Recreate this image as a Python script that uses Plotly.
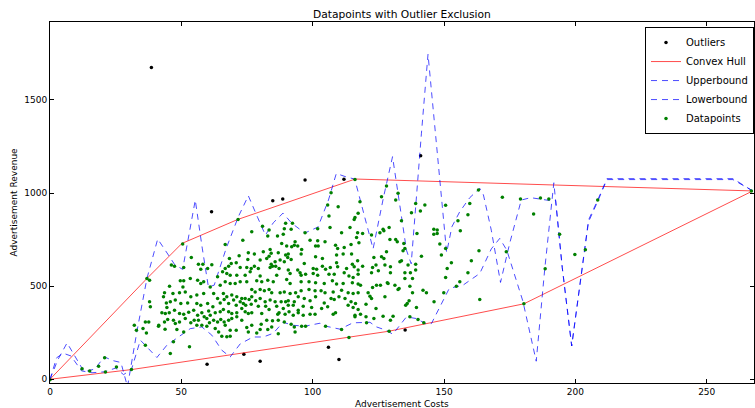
import plotly.graph_objects as go

# ---------------- data ----------------
dp_x = [
0.0,12.2,15.1,18.5,20.8,21.1,25.3,31.0,
53.8,68.3,72.0,46.2,47.4,50.9,56.5,58.2,57.4,60.0,61.6,66.7,68.0,69.0,70.9,72.4,36.9,37.9,49.6,50.9,53.4,56.2,58.5,63.8,65.7,67.3,68.6,71.1,66.7,68.6,72.4,70.5,45.5,50.6,57.4,61.0,64.8,43.6,46.8,49.3,51.5,53.6,55.9,58.5,62.3,63.8,66.0,67.3,69.2,71.1,73.0,69.9,72.4,37.9,38.2,45.8,47.7,49.8,52.4,55.9,57.4,60.0,62.0,64.8,66.3,68.0,70.9,73.6,42.6,43.9,45.4,47.4,49.3,50.9,52.8,54.7,56.2,57.8,58.7,60.4,61.0,62.9,64.8,66.0,68.0,69.2,71.1,73.0,74.3,36.3,37.6,41.4,43.6,44.8,47.0,47.7,49.3,51.5,53.6,54.9,56.5,57.8,59.7,60.7,62.3,63.8,65.0,66.3,68.0,69.2,71.1,73.0,32.1,32.9,35.4,43.8,48.3,50.9,55.9,59.7,62.9,64.2,66.7,68.6,70.9,36.7,47.0,53.1,65.4,67.3,68.6,
43.2,44.3,44.5,41.3,36.3,45.8,
75.5,77.8,81.2,83.4,84.2,86.9,89.7,90.7,95.6,101.1,109.1,111.6,114.8,75.3,80.0,82.5,84.2,84.7,85.7,87.6,89.2,90.5,91.8,96.8,103.7,109.1,115.1,117.1,74.9,76.6,77.8,79.3,83.8,85.9,87.2,90.7,94.3,95.2,100.2,101.5,103.7,104.9,106.7,109.5,112.9,115.8,117.3,74.3,76.2,80.0,86.3,91.4,95.6,97.3,100.2,101.9,106.2,108.2,112.0,113.8,115.4,117.3,74.9,78.7,80.6,82.9,85.0,90.1,91.4,95.6,98.6,101.1,104.4,107.5,109.1,111.6,115.1,117.3,76.8,78.1,80.0,81.6,83.4,84.4,87.6,89.2,91.4,93.5,95.6,98.6,100.9,103.2,104.7,107.8,111.0,113.5,115.4,117.3,74.3,75.8,76.8,78.3,80.0,81.9,83.8,85.7,88.0,89.7,90.7,93.0,94.5,96.8,99.0,101.1,104.4,107.0,108.2,110.0,112.3,114.6,116.3,74.5,76.6,79.3,82.1,83.4,86.3,88.8,90.7,92.6,94.5,96.4,99.6,103.4,105.7,113.5,115.4,117.3,75.5,76.8,80.6,86.7,87.2,89.5,91.0,92.6,94.5,96.4,99.0,100.9,107.8,108.7,116.1,74.9,76.8,80.4,82.5,84.7,86.9,89.2,91.8,93.0,95.8,97.3,104.9,111.0,116.1,75.5,78.7,80.0,82.9,84.4,86.9,93.3,113.8,
123.3,126.2,127.1,128.1,134.4,133.8,133.2,136.3,139.2,141.4,149.0,152.8,119.0,122.8,124.1,127.5,129.6,122.4,125.0,129.6,135.1,137.2,139.2,151.2,159.1,160.4,135.1,138.0,150.6,156.0,154.7,118.2,122.8,124.3,125.8,128.4,128.7,131.3,132.5,132.9,137.0,142.0,143.3,138.0,121.1,121.8,122.4,127.5,149.9,146.2,136.7,136.0,135.4,139.5,120.3,124.1,118.2,120.3,123.3,126.8,130.6,129.6,120.5,137.0,140.1,142.3,129.1,
116.1,107.0,105.7,109.7,106.2,118.0,117.3,116.1,115.8,76.8,80.9,83.4,82.9,86.6,88.8,89.7,92.3,89.2,91.8,93.3,97.1,101.9,106.6,111.0,114.2,117.1,99.0,101.9,104.7,116.7,88.2,90.1,92.0,93.0,94.3,83.8,95.8,101.1,102.1,108.7,112.0,114.6,117.6,109.5,
128.1,126.2,131.6,132.5,139.2,142.7,137.6,141.0,150.6,159.8,159.1,155.3,156.2,133.8,129.1,126.8,127.1,125.6,122.4,119.0,129.4,131.6,132.2,134.7,135.1,139.7,146.1,147.4,146.1,147.4,148.4,150.6,
50.5,71.6,66.7,73.4,
163.3,163.6,173.7,180.4,184.1,188.5,194.0,199.8,203.8,208.5,172.2,179.1,186.7,189.9,163.1,267.0,
]
dp_y = [
-3,57,45,70,116,39,66,52,
654,649,663,613,607,600,618,618,590,595,615,595,607,622,625,600,541,532,529,529,541,532,523,550,577,568,559,559,523,514,523,514,500,496,514,496,505,464,461,464,469,443,452,461,461,434,461,443,452,443,434,425,416,416,389,416,425,407,410,407,398,407,389,410,428,407,398,407,357,353,357,371,353,349,360,371,344,357,335,367,344,357,362,375,362,353,357,380,362,308,308,290,308,321,317,299,308,326,303,317,317,290,326,303,317,308,321,308,317,326,335,317,290,263,272,269,267,254,290,285,272,254,290,263,263,249,201,174,231,228,231,
443,410,385,285,183,138,
679,672,685,661,676,679,667,672,672,658,667,672,672,643,640,649,618,607,631,640,631,654,643,622,649,625,618,636,600,595,607,595,600,607,595,586,586,572,595,590,607,590,600,604,595,604,586,559,577,554,559,568,559,564,568,559,564,564,572,554,547,564,523,529,523,532,523,536,514,523,523,518,514,529,511,514,518,511,482,469,482,475,482,464,464,469,461,464,475,482,475,475,464,469,478,464,461,464,434,428,443,421,434,416,425,416,416,416,421,416,443,434,421,443,410,434,428,443,434,416,407,398,403,392,392,375,392,380,398,398,371,392,385,380,389,398,385,375,353,357,353,349,357,349,362,344,357,344,349,349,349,357,344,278,290,296,317,314,317,308,296,281,285,285,285,267,335,254,249,267,267,281,245,254,224,
654,658,649,685,690,636,631,613,618,661,667,625,607,600,613,613,604,572,582,572,572,572,586,595,572,636,541,541,547,523,500,505,493,505,505,518,514,505,482,487,500,478,464,464,464,446,434,443,464,416,421,407,398,385,403,380,349,335,326,339,339,317,303,335,321,303,258,
1073,1002,935,926,876,953,891,869,858,792,822,801,769,769,779,837,837,808,805,738,787,808,815,787,815,787,747,744,738,761,729,715,711,720,715,697,697,715,715,720,708,724,733,702,
1038,980,962,998,944,935,894,903,934,944,883,851,797,851,815,805,797,787,774,783,751,751,738,729,702,783,805,801,779,783,726,702,
726,858,724,747,
690,428,685,405,887,593,778,670,695,962,977,968,973,968,1016,1011,
]

out_x = [38.6, 61.5, 59.8, 73.8, 80.0, 106.0, 110.0, 135.2, 84.8, 88.6, 97.1, 111.9, 141.1]
out_y = [1674, 900, 80, 134, 97, 172, 106, 265, 959, 968, 1070, 1074, 1200]

hull_x = [0, 36.9, 50.2, 71.5, 116.2, 267.5, 180.4, 129.0, 31.0, 0]
hull_y = [0, 541, 729, 858, 1075, 1011, 405, 258, 52, 0]

up_x = [0, 3, 6.5, 10, 13, 17, 20.7, 24, 27, 29.5, 33, 36.9, 41, 44, 47.5, 50.5, 55.3, 58, 60.3, 62.5,
        67, 71.7, 75.5, 79, 82, 85, 88.7, 92, 97, 102, 106, 109, 113, 116, 119, 123, 127, 130.4,
        133, 135.7, 137.5, 139.5, 141.4, 143.9, 146.5, 149, 151, 153, 156, 159.8, 163.6, 165, 168,
        171.5, 175, 179.4, 183, 187, 190, 192.5, 195, 198.6, 202, 205, 208.5, 212, 236, 260, 267.5]
up_y = [0, 105, 195, 110, 40, 55, 120, 100, 90, -40, 250, 541, 753, 690, 615, 590, 962, 700, 496, 505,
        700, 873, 985, 870, 774, 840, 892, 838, 785, 817, 962, 1105, 1085, 1075, 920, 700, 980, 1195,
        950, 693, 620, 998, 1321, 1745, 1338, 980, 680, 819, 900, 975, 1025, 990, 800,
        520, 730, 962, 975, 965, 960, 960, 600, 179, 550, 855, 962, 1077, 1077, 1077, 1011]

lo_x = [0, 2.5, 5, 8, 12, 16, 20.7, 25, 28, 31, 34.4, 40.7, 44.5, 48.3, 53.4, 57.8, 61.6, 65.4, 68.6,
        72.4, 77.3, 81.2, 85, 88.7, 92.5, 97, 102.8, 105, 110.4, 115.3, 121.8, 124.3, 128, 130.5,
        132.4, 135.7, 139.5, 143.3, 145.2, 149.6, 152, 157.2, 163.6, 168, 171.2, 173.9, 180, 185.1,
        188.3, 191.8, 195, 198.6, 202, 205, 208.5, 212, 236, 260, 267.5]
lo_y = [0, 115, 140, 125, 45, 35, 40, 60, 25, 52, 210, 117, 183, 219, 272, 281, 237, 156, 120,
        190, 227, 227, 247, 306, 290, 285, 301, 285, 269, 303, 306, 281, 263, 242,
        274, 335, 326, 296, 299, 425, 488, 505, 568, 700, 756, 693, 420, 97,
        586, 1055, 600, 179, 540, 845, 955, 1072, 1072, 1072, 1011]

FONT = "DejaVu Sans"
BLUE = "rgba(0,0,255,0.7)"

fig = go.Figure()
fig.add_trace(go.Scatter(x=out_x, y=out_y, mode="markers", name="Outliers",
                         marker=dict(color="black", size=3.5)))
fig.add_trace(go.Scatter(x=hull_x, y=hull_y, mode="lines", name="Convex Hull",
                         line=dict(color="rgba(255,0,0,0.7)", width=1)))
fig.add_trace(go.Scatter(x=up_x, y=up_y, mode="lines", name="Upperbound",
                         line=dict(color=BLUE, width=1, dash="6px,5px")))
fig.add_trace(go.Scatter(x=lo_x, y=lo_y, mode="lines", name="Lowerbound",
                         line=dict(color=BLUE, width=1, dash="6px,5px")))
fig.add_trace(go.Scatter(x=dp_x, y=dp_y, mode="markers", name="Datapoints",
                         marker=dict(color="#008000", size=3.5)))

axis_common = dict(showgrid=False, zeroline=False, showline=True, linecolor="black",
                   linewidth=1, mirror="allticks", ticks="inside", ticklen=4,
                   tickcolor="black", tickfont=dict(family=FONT, size=9, color="black"))

fig.update_layout(
    width=755, height=408,
    margin=dict(l=50, r=1, t=22, b=25),
    paper_bgcolor="white", plot_bgcolor="white",
    font=dict(family=FONT, color="black"),
    showlegend=True,
    legend=dict(x=1, y=0.986, xanchor="right", yanchor="top",
                bordercolor="black", borderwidth=1, bgcolor="white",
                font=dict(family=FONT, size=10, color="black"),
                tracegroupgap=0, itemwidth=30),
    xaxis=dict(range=[0, 268], tick0=0, dtick=50, **axis_common),
    yaxis=dict(range=[-20, 1918], tick0=0, dtick=500, **axis_common),
    annotations=[
        dict(text="Datapoints with Outlier Exclusion", x=0.5, y=1 + 7 / 361, xref="paper",
             yref="paper", showarrow=False, xanchor="center", yanchor="middle",
             font=dict(family=FONT, size=10.7, color="black")),
        dict(text="Advertisement Costs", x=0.5, y=-21 / 361, xref="paper", yref="paper",
             showarrow=False, xanchor="center", yanchor="middle",
             font=dict(family=FONT, size=9, color="black")),
        dict(text="Advertisement Revenue", x=-37 / 704, y=0.5, xref="paper", yref="paper",
             showarrow=False, xanchor="center", yanchor="middle", textangle=-90,
             font=dict(family=FONT, size=9, color="black")),
    ],
)

fig.write_html("out.html")
